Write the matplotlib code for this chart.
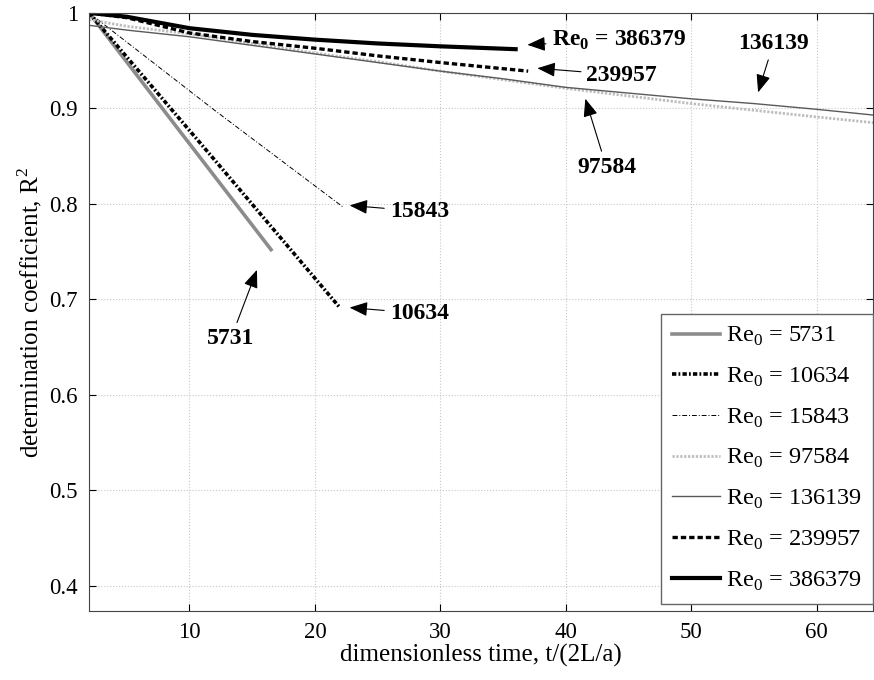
import matplotlib

matplotlib.use("Agg")
import matplotlib.pyplot as plt

plt.rcParams["font.family"] = ["Liberation Serif", "DejaVu Serif"]
plt.rcParams["mathtext.fontset"] = "custom"
plt.rcParams["mathtext.rm"] = "Liberation Serif"
plt.rcParams["mathtext.bf"] = "Liberation Serif:bold"

# dimensionless time vs R^2 for each Re0
x_5731 = [2, 9, 16.5]
y_5731 = [1.0, 0.880, 0.752]
x_10634 = [2, 12, 22]
y_10634 = [1.0, 0.846, 0.691]
x_15843 = [2, 12, 22.2]
y_15843 = [1.0, 0.898, 0.797]
x_97584 = [2, 5, 10, 15, 20, 25, 30, 35, 40, 45, 50, 55, 60, 64.5]
y_97584 = [0.993, 0.986, 0.978, 0.968, 0.958, 0.949, 0.939, 0.930, 0.921, 0.913, 0.905, 0.898, 0.891, 0.885]
x_136139 = [2, 5, 10, 15, 20, 25, 30, 35, 40, 45, 50, 55, 60, 64.5]
y_136139 = [0.987, 0.982, 0.975, 0.966, 0.957, 0.948, 0.939, 0.931, 0.922, 0.916, 0.910, 0.905, 0.899, 0.893]
x_239957 = [2, 5, 10, 15, 20, 25, 30, 37]
y_239957 = [1.0, 0.995, 0.979, 0.970, 0.963, 0.955, 0.948, 0.939]
x_386379 = [2, 5, 10, 15, 20, 25, 30, 36]
y_386379 = [1.0, 0.996, 0.984, 0.977, 0.972, 0.968, 0.965, 0.962]

re_labels = ["5731", "10634", "15843", "97584", "136139", "239957", "386379"]

fig = plt.figure(figsize=(8.74, 6.80), dpi=100)
ax = fig.add_axes([0.102, 0.101, 0.897, 0.880])

series = [
    (x_5731, y_5731, dict(color="#8c8c8c", lw=2.6, ls="-")),
    (x_10634, y_10634, dict(color="black", lw=2.6, ls=(0, (1.2, 0.6, 0.5, 0.6)))),
    (x_15843, y_15843, dict(color="black", lw=0.7, ls=(0, (5, 2, 1, 2)))),
    (x_97584, y_97584, dict(color="#bdbdbd", lw=2.0, ls=(0, (0.8, 0.6)))),
    (x_136139, y_136139, dict(color="#5a5a5a", lw=1.0, ls="-")),
    (x_239957, y_239957, dict(color="black", lw=2.4, ls=(0, (1.6, 0.9)))),
    (x_386379, y_386379, dict(color="black", lw=3.0, ls="-")),
]
for (xs, ys, style), name in zip(series, re_labels):
    ax.plot(xs, ys, label=f"Re$_0$ = {name}", **style)

ax.set_xlim(2, 64.5)
ax.set_ylim(0.373, 1.0)
ax.set_xticks([10, 20, 30, 40, 50, 60])
ax.set_yticks([0.4, 0.5, 0.6, 0.7, 0.8, 0.9, 1.0])
ax.set_yticklabels(["0.4", "0.5", "0.6", "0.7", "0.8", "0.9", "1"])
ax.tick_params(direction="in", labelsize=16.5, length=5, top=True, right=True, pad=8)
ax.grid(True, color="#c8c8c8", ls=":", lw=0.8)
for spine in ax.spines.values():
    spine.set_color("#444444")

ax.set_xlabel("dimensionless time, t/(2L/a)", fontsize=18, labelpad=0)
ax.set_ylabel("determination coefficient, R$^2$", fontsize=18, labelpad=4)

leg = ax.legend(loc="lower right", bbox_to_anchor=(1.0, 0.013), fontsize=17.5, fancybox=False,
                edgecolor="#666666", framealpha=1, handlelength=2.0, labelspacing=0.72,
                borderaxespad=0.0, handletextpad=0.25, borderpad=0.45)
leg.get_frame().set_linewidth(1.0)


def px(xp, yp):
    return 2 + (xp - 89) / 12.56, 1 - (yp - 13) / 953.0


arrow = dict(arrowstyle="-|>,head_length=0.5,head_width=0.2", color="black", lw=0.8,
             mutation_scale=22)
notes = [
    ("Re$_\\mathbf{0}$ = 386379", (525, 45), (552, 40), "left"),
    ("239957", (535, 68), (587, 75), "left"),
    ("136139", (758, 95), (774, 44), "center"),
    ("97584", (585, 96), (607, 167), "center"),
    ("15843", (347, 205), (390, 211), "left"),
    ("10634", (347, 307), (390, 313), "left"),
    ("5731", (258, 267), (231, 338), "center"),
]
for text, tip, pos, ha in notes:
    ax.annotate(text, xy=px(*tip), xytext=px(*pos), fontsize=17, fontweight="bold",
                ha=ha, va="center", arrowprops=arrow)

fig.savefig("out.png", dpi=100)
